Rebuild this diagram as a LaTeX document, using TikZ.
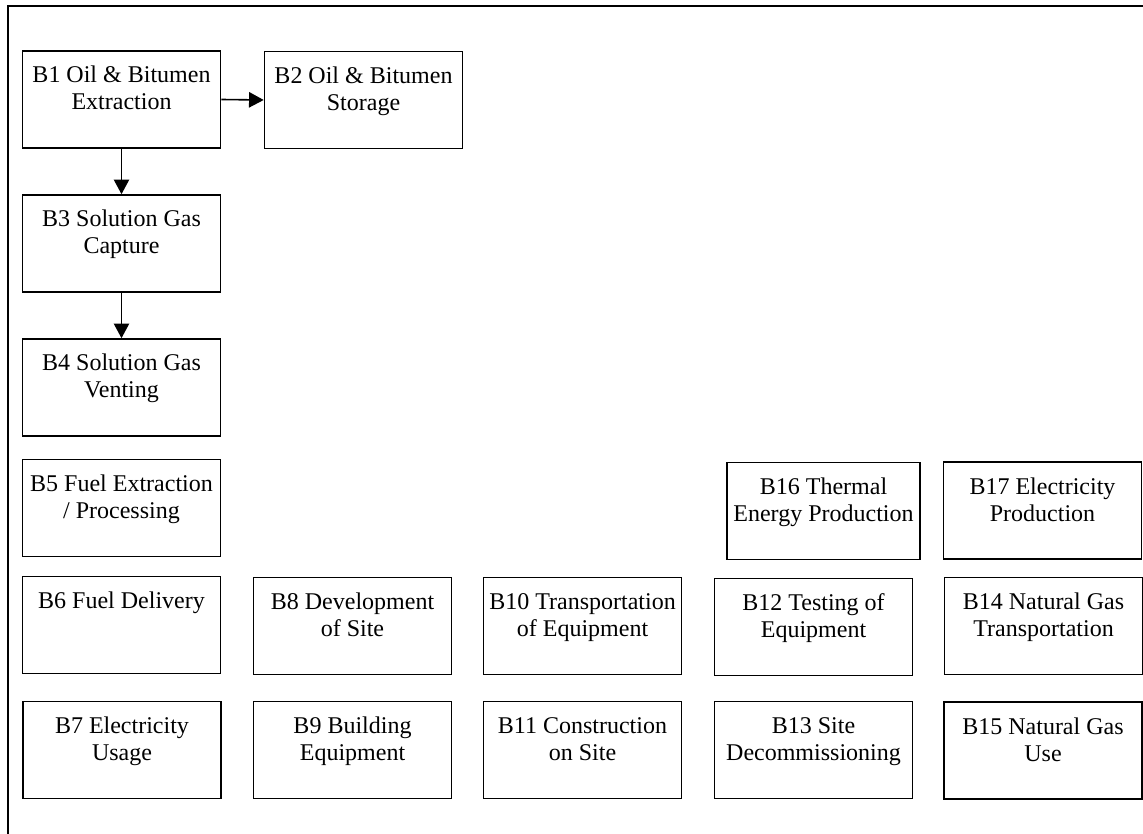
\documentclass[tikz,border=0pt]{standalone}
\usepackage{fontspec}
\setmainfont{Liberation Serif}
\usetikzlibrary{arrows.meta}
\newcommand{\btxt}[2]{\parbox[t][72.75pt][t]{#1}{\centering\rule{0pt}{24pt}#2}}
\tikzset{
  blk/.style={draw, line width=1.2pt, rectangle, inner sep=0pt, minimum width=148.5pt, minimum height=72.75pt,
    font=\fontsize{18}{20.25}\selectfont},
  flow/.style={line width=1.2pt, -{Triangle[length=11pt,width=11.5pt]}},
  frame/.style={line width=1.1pt}
}
\begin{document}
\begin{tikzpicture}[x=0.75pt,y=-0.75pt]
\useasboundingbox (0,0) rectangle (1143,834);
\fill[white] (0,0) rectangle (1143,834);
\coordinate (fa) at (8,834);
\coordinate (fb) at (8,6);
\coordinate (fc) at (1143,6);
\draw[frame] (fa) -- (fb) -- (fc);

\node[blk] (b1) at (121.5,99.5) {\btxt{145pt}{B1 Oil \& Bitumen\\Extraction}};
\node[blk] (b2) at (363.5,100) {\btxt{145pt}{B2 Oil \& Bitumen\\Storage}};
\node[blk] (b3) at (121.5,243.5) {\btxt{145pt}{B3 Solution Gas\\Capture}};
\node[blk] (b4) at (121.5,387.5) {\btxt{145pt}{B4 Solution Gas\\Venting}};
\node[blk] (b5) at (121.5,508) {\btxt{145pt}{B5 Fuel Extraction\\/ Processing}};
\node[blk, minimum width=144.75pt] (b16) at (823.5,511) {\btxt{143pt}{B16 Thermal\\Energy Production}};
\node[blk] (b17) at (1042.5,510.5) {\btxt{145pt}{B17 Electricity\\Production}};

\node[blk] (b6) at (121.5,625) {\btxt{145pt}{B6 Fuel Delivery}};
\node[blk] (b8) at (352.5,626) {\btxt{145pt}{B8 Development\\of Site}};
\node[blk] (b10) at (582.5,626) {\btxt{145pt}{B10 Transportation\\of Equipment}};
\node[blk] (b12) at (813.5,627) {\btxt{145pt}{B12 Testing of\\Equipment}};
\node[blk] (b14) at (1043.5,626) {\btxt{145pt}{B14 Natural Gas\\Transportation}};

\node[blk] (b7) at (122,750) {\btxt{145pt}{B7 Electricity\\Usage}};
\node[blk] (b9) at (352.5,750) {\btxt{145pt}{B9 Building\\Equipment}};
\node[blk] (b11) at (582.5,750) {\btxt{145pt}{B11 Construction\\on Site}};
\node[blk] (b13) at (813.5,750) {\btxt{145pt}{B13 Site\\Decommissioning}};
\node[blk] (b15) at (1043,750.5) {\btxt{145pt}{B15 Natural Gas\\Use}};

\draw[flow] (b1.east) -- (b2.west);
\draw[flow] (b1.south) -- (b3.north);
\draw[flow] (b3.south) -- (b4.north);
\end{tikzpicture}
\end{document}
